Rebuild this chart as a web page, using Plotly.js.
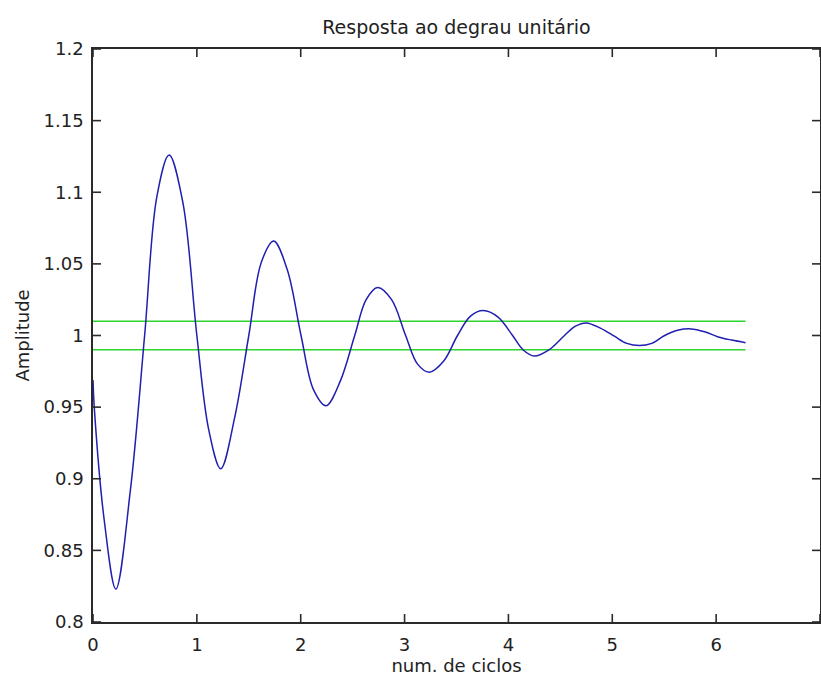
<!DOCTYPE html>
<html>
<head>
<meta charset="utf-8">
<script src="https://cdn.plot.ly/plotly-3.0.1.min.js"></script>
<style>
html,body{margin:0;padding:0;background:#fff;}
#chart{width:821px;height:682px;}
</style>
</head>
<body>
<div id="chart"></div>
<script>
// number of cycles (x) and step-response amplitude (y)
var cycles = [0, 0.012, 0.11, 0.22, 0.36, 0.497, 0.615, 0.733, 0.865, 1.0, 1.115, 1.23, 1.365, 1.50, 1.62, 1.74,
  1.87, 2.003, 2.124, 2.244, 2.38, 2.52, 2.63, 2.741, 2.875, 3.01, 3.125, 3.239, 3.375, 3.51, 3.635, 3.758,
  3.90, 4.04, 4.145, 4.249, 4.39, 4.54, 4.645, 4.75, 4.89, 5.02, 5.14, 5.26, 5.38, 5.50, 5.63, 5.757,
  5.89, 6.02, 6.15, 6.283];
var amplitude = [0.969, 0.950, 0.870, 0.823, 0.892, 1.000, 1.097, 1.126, 1.093, 1.000, 0.934, 0.907, 0.943, 1.000, 1.051, 1.066,
  1.046, 1.000, 0.962, 0.951, 0.968, 1.000, 1.025, 1.0335, 1.025, 1.000, 0.980, 0.9744, 0.982, 1.000, 1.0135, 1.0174,
  1.0128, 1.000, 0.9897, 0.9857, 0.990, 1.000, 1.0065, 1.0088, 1.005, 0.9995, 0.9945, 0.993, 0.9945, 0.9998, 1.0036, 1.0046,
  1.0026, 0.9990, 0.9968, 0.9950];

// tolerance band (+/- 1 %)
var bandX = [0, 6.283];
var bandUpper = [1.01, 1.01];
var bandLower = [0.99, 0.99];

// ticks
var xTickVals = [0, 1, 2, 3, 4, 5, 6, 7];
var xTickText = ['0', '1', '2', '3', '4', '5', '6', '7'];
var yTickVals = [0.8, 0.85, 0.9, 0.95, 1, 1.05, 1.1, 1.15, 1.2];
var yTickText = ['0.8', '0.85', '0.9', '0.95', '1', '1.05', '1.1', '1.15', '1.2'];

var FONT = 'DejaVu Sans, Arial, sans-serif';
var green = '#2fd52f';
var blue = '#1f1fb0';
var axisColor = '#2a2a2a';

var W = 821, H = 682;
var M = {l: 93, r: 1, t: 49, b: 60};
var xRange = [0, 7], yRange = [0.8, 1.2];
var TICK_PX = 8;

// tick mark length converted from pixels to axis units
var dx = TICK_PX * (xRange[1] - xRange[0]) / (W - M.l - M.r);
var dy = TICK_PX * (yRange[1] - yRange[0]) / (H - M.t - M.b);

// inside tick marks on all four sides (MATLAB style), built from the tick arrays
var tx = [], ty = [];
xTickVals.forEach(function (v) {
  tx.push(v, v, null, v, v, null);
  ty.push(yRange[0], yRange[0] + dy, null, yRange[1], yRange[1] - dy, null);
});
yTickVals.forEach(function (v) {
  tx.push(xRange[0], xRange[0] + dx, null, xRange[1], xRange[1] - dx, null);
  ty.push(v, v, null, v, v, null);
});

var traces = [
  {x: bandX, y: bandUpper, type: 'scatter', mode: 'lines', line: {color: green, width: 1.5}, hoverinfo: 'skip'},
  {x: bandX, y: bandLower, type: 'scatter', mode: 'lines', line: {color: green, width: 1.5}, hoverinfo: 'skip'},
  {x: cycles, y: amplitude, type: 'scatter', mode: 'lines', line: {color: blue, width: 1.5, shape: 'spline', smoothing: 1}},
  {x: tx, y: ty, type: 'scatter', mode: 'lines', connectgaps: false, cliponaxis: false,
   line: {color: axisColor, width: 1.6}, hoverinfo: 'skip'}
];

var axisCommon = {
  showline: true, linecolor: axisColor, linewidth: 1.5,
  mirror: true, ticks: '',
  showgrid: false, zeroline: false,
  tickfont: {family: FONT, size: 18, color: '#222'}
};

var layout = {
  width: W, height: H,
  margin: M,
  paper_bgcolor: '#fff', plot_bgcolor: '#fff',
  showlegend: false,
  font: {family: FONT, size: 18, color: '#222'},
  title: {text: 'Resposta ao degrau unitário', font: {family: FONT, size: 19, color: '#222'},
          x: 0.5, xref: 'paper', xanchor: 'center', y: 1 - 27 / 682, yref: 'container', yanchor: 'middle'},
  xaxis: Object.assign({}, axisCommon, {
    range: xRange, tickmode: 'array', tickvals: xTickVals, ticktext: xTickText,
    ticklabelstandoff: 6,
    title: {text: 'num. de ciclos', font: {family: FONT, size: 18, color: '#222'}, standoff: 0}
  }),
  yaxis: Object.assign({}, axisCommon, {
    range: yRange, tickmode: 'array', tickvals: yTickVals, ticktext: yTickText,
    ticklabelstandoff: 4,
    title: {text: 'Amplitude', font: {family: FONT, size: 18, color: '#222'}, standoff: 9}
  })
};

Plotly.newPlot('chart', traces, layout, {displayModeBar: false});
</script>
</body>
</html>
